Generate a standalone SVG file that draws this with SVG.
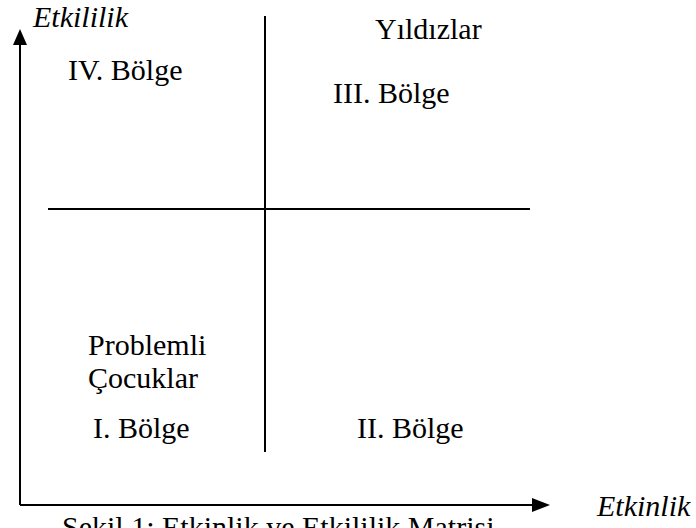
<svg xmlns="http://www.w3.org/2000/svg" width="696" height="528" viewBox="0 0 696 528">
<style>
text{font-family:"Liberation Serif","Times New Roman",serif;font-size:30px;fill:#000}
.it{font-style:italic}
.ln{stroke:#000;stroke-width:2;fill:none}
.ah{fill:#000}
</style>
<rect width="696" height="528" fill="#fff"/>
<g id="connectors">
<path class="ln" d="M20,505 L20,44"/>
<path class="ah" d="M13,45 L20,29 L27,45 Z"/>
<path class="ln" d="M20,505 L534,505"/>
<path class="ah" d="M532,498 L550,505 L532,512 Z"/>
<path class="ln" d="M265,16 L265,452"/>
<path class="ln" d="M48,209 L530,209"/>
</g>
<g id="axis-y"><text class="it" x="33" y="27">Etkililik</text></g>
<g id="axis-x"><text class="it" x="597" y="516">Etkinlik</text></g>
<g id="q4"><text x="68" y="80">IV. Bölge</text></g>
<g id="q3"><text x="375" y="39">Yıldızlar</text><text x="333" y="103">III. Bölge</text></g>
<g id="q1"><text x="88" y="355">Problemli</text><text x="88" y="388">Çocuklar</text><text x="93" y="438">I. Bölge</text></g>
<g id="q2"><text x="357" y="438">II. Bölge</text></g>
<g id="caption"><text x="62" y="537">Şekil 1:  Etkinlik ve Etkililik Matrisi</text></g>
</svg>
